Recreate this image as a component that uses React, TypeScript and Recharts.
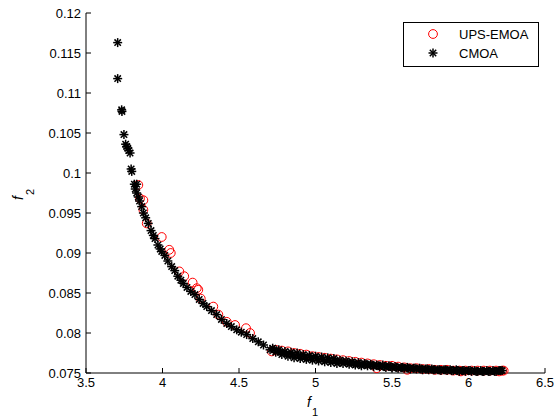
import React from 'react';
import { ScatterChart, Scatter, XAxis, YAxis, Legend, Label } from 'recharts';

// tick values and their printed labels (MATLAB style)
const xTicks = [3.5, 4, 4.5, 5, 5.5, 6, 6.5];
const xTickLabels = ['3.5', '4', '4.5', '5', '5.5', '6', '6.5'];
const yTicks = [0.075, 0.08, 0.085, 0.09, 0.095, 0.1, 0.105, 0.11, 0.115, 0.12];
const yTickLabels = ['0.075', '0.08', '0.085', '0.09', '0.095', '0.1', '0.105', '0.11', '0.115', '0.12'];

// UPS-EMOA front (red circles)
const upsF1 = [
  3.842, 3.853, 3.875, 3.875, 3.897, 3.995, 4.044, 4.054, 4.110, 4.142,
  4.197, 4.224, 4.234, 4.250, 4.332, 4.365, 4.420, 4.474, 4.546, 4.572,
  4.714, 4.74, 4.78, 4.82, 4.86, 4.90, 4.94, 4.98, 5.02, 5.06,
  5.10, 5.14, 5.18, 5.22, 5.26, 5.30, 5.34, 5.38, 5.42, 5.46,
  5.50, 5.54, 5.58, 5.62, 5.66, 5.70, 5.74, 5.78, 5.82, 5.86,
  5.90, 5.94, 5.98, 6.02, 6.06, 6.10, 6.14, 6.18, 6.22, 6.23,
  5.40, 5.60, 5.95, 6.20,
];
const upsF2 = [
  0.0985, 0.0968, 0.0966, 0.0954, 0.0937, 0.0920, 0.0904, 0.0900, 0.0877, 0.0871,
  0.0863, 0.0856, 0.0854, 0.0843, 0.0833, 0.0823, 0.0814, 0.0810, 0.0806, 0.0800,
  0.0777, 0.0779, 0.0778, 0.0777, 0.0775, 0.0774, 0.0773, 0.0771, 0.0770, 0.0769,
  0.0768, 0.0767, 0.0766, 0.0765, 0.0764, 0.0763, 0.0762, 0.0761, 0.0760, 0.0759,
  0.0759, 0.0758, 0.0757, 0.0756, 0.0756, 0.0755, 0.0755, 0.0754, 0.0754, 0.0754,
  0.0753, 0.0753, 0.0753, 0.0753, 0.0753, 0.0753, 0.0753, 0.0753, 0.0753, 0.0753,
  0.0756, 0.0754, 0.0752, 0.0752,
];

// CMOA front (black asterisks)
const cmoaF1 = [
  3.707, 3.707, 3.733, 3.735, 3.748, 3.759, 3.766, 3.773, 3.780, 3.788,
  3.795, 3.799, 3.816, 3.822, 3.831, 3.831, 3.842, 3.850, 3.864, 3.875,
  3.890, 3.907, 3.925, 3.940, 3.951, 3.970, 3.985, 3.995, 4.015, 4.035,
  4.060, 4.080, 4.100, 4.120, 4.136, 4.160, 4.185, 4.212, 4.240, 4.265,
  4.289, 4.320, 4.354, 4.385, 4.420, 4.450, 4.485, 4.515, 4.550, 4.590,
  4.626, 4.660, 4.703,
  4.72, 4.76, 4.80, 4.84, 4.88, 4.92, 4.96, 5.00, 5.04, 5.08,
  5.12, 5.16, 5.20, 5.24, 5.28, 5.32, 5.36, 5.40, 5.44, 5.48,
  5.52, 5.56, 5.60, 5.64, 5.68, 5.72, 5.76, 5.80, 5.84, 5.88,
  5.92, 5.96, 6.00, 6.04, 6.08, 6.12, 6.16, 6.20, 6.22,
  4.73, 4.77, 4.81, 4.85, 4.89, 4.93, 4.97, 5.01, 5.05, 5.09,
  5.13, 5.17, 5.21, 5.25, 5.29, 5.33, 5.37, 5.41, 5.45, 5.49,
  5.53, 5.57, 5.61, 5.65, 5.69, 5.73, 5.77, 5.81, 5.85, 5.89,
  5.93, 5.97, 6.01, 6.05, 6.09, 6.13, 6.17, 6.21,
  4.74, 4.78, 4.82, 4.86, 4.90, 4.94, 4.98, 5.02, 5.06, 5.10,
  5.14, 5.18, 5.22, 5.26, 5.30, 5.34, 5.38, 5.42, 5.46, 5.50,
  5.54, 5.58, 5.62, 5.66, 5.70, 5.74, 5.78, 5.82, 5.86, 5.90,
  5.94, 5.98, 6.02, 6.06, 6.10, 6.14, 6.18,
];
const cmoaF2 = [
  0.1163, 0.1118, 0.1079, 0.1077, 0.1048, 0.1036, 0.1033, 0.1031, 0.1028, 0.1025,
  0.1005, 0.1002, 0.0986, 0.0980, 0.0975, 0.0986, 0.0970, 0.0965, 0.0958, 0.0950,
  0.0944, 0.0937, 0.0928, 0.0922, 0.0918, 0.0910, 0.0905, 0.0902, 0.0897, 0.0890,
  0.0883, 0.0878, 0.0871, 0.0866, 0.0862, 0.0857, 0.0852, 0.0848, 0.0842, 0.0837,
  0.0833, 0.0828, 0.0823, 0.0817, 0.0812, 0.0808, 0.0804, 0.0801, 0.0798, 0.0793,
  0.0789, 0.0785, 0.0779,
  0.0781, 0.0779, 0.0777, 0.0776, 0.0775, 0.0773, 0.0772, 0.0771, 0.0770, 0.0769,
  0.0768, 0.0766, 0.0765, 0.0764, 0.0763, 0.0762, 0.0761, 0.0760, 0.0760, 0.0759,
  0.0758, 0.0757, 0.0757, 0.0756, 0.0756, 0.0755, 0.0755, 0.0754, 0.0754, 0.0754,
  0.0754, 0.0753, 0.0753, 0.0753, 0.0753, 0.0753, 0.0753, 0.0753, 0.0753,
  0.0779, 0.0776, 0.0774, 0.0773, 0.0772, 0.0770, 0.0769, 0.0768, 0.0767, 0.0766,
  0.0765, 0.0764, 0.0763, 0.0762, 0.0761, 0.0761, 0.0760, 0.0759, 0.0758, 0.0758,
  0.0757, 0.0757, 0.0756, 0.0756, 0.0755, 0.0755, 0.0754, 0.0754, 0.0754, 0.0753,
  0.0753, 0.0753, 0.0753, 0.0752, 0.0752, 0.0752, 0.0752, 0.0753,
  0.0776, 0.0773, 0.0771, 0.0769, 0.0768, 0.0767, 0.0766, 0.0765, 0.0764, 0.0763,
  0.0762, 0.0762, 0.0761, 0.0760, 0.0759, 0.0759, 0.0758, 0.0758, 0.0757, 0.0757,
  0.0756, 0.0756, 0.0755, 0.0755, 0.0754, 0.0754, 0.0754, 0.0753, 0.0753, 0.0753,
  0.0752, 0.0752, 0.0752, 0.0752, 0.0752, 0.0752, 0.0752,
];

const upsData = upsF1.map((f1, i) => ({ f1, f2: upsF2[i] }));
const cmoaData = cmoaF1.map((f1, i) => ({ f1, f2: cmoaF2[i] }));

const FONT = '"Liberation Sans", Arial, Helvetica, sans-serif';

const Ring = ({ cx, cy }: any) => (
  <circle cx={cx} cy={cy} r={4.4} fill="none" stroke="#ff0000" strokeWidth={1} />
);

const Star = ({ cx, cy }: any) => (
  <g stroke="#000" strokeWidth={1.5}>
    <line x1={cx - 4.5} y1={cy} x2={cx + 4.5} y2={cy} />
    <line x1={cx} y1={cy - 4.5} x2={cx} y2={cy + 4.5} />
    <line x1={cx - 3.2} y1={cy - 3.2} x2={cx + 3.2} y2={cy + 3.2} />
    <line x1={cx - 3.2} y1={cy + 3.2} x2={cx + 3.2} y2={cy - 3.2} />
  </g>
);

// ticks point inwards, so draw them ourselves
const XTick = ({ x, y, payload }: any) => {
  const i = xTicks.indexOf(payload.value);
  return (
    <g>
      <line x1={x} y1={y} x2={x} y2={y - 5} stroke="#000" />
      <text x={x} y={y + 14} textAnchor="middle" fontSize={13} fontFamily={FONT} fill="#000">
        {i >= 0 ? xTickLabels[i] : payload.value}
      </text>
    </g>
  );
};

const YTick = ({ x, y, payload }: any) => {
  const i = yTicks.indexOf(payload.value);
  return (
    <g>
      <line x1={x} y1={y} x2={x + 5} y2={y} stroke="#000" />
      <text x={x - 5} y={y + 4.5} textAnchor="end" fontSize={13} fontFamily={FONT} fill="#000">
        {i >= 0 ? yTickLabels[i] : payload.value}
      </text>
    </g>
  );
};

const LegendBox = () => (
  <svg width={136} height={45} style={{ display: 'block' }}>
    <rect x={0.5} y={0.5} width={135} height={44} fill="#fff" stroke="#000" />
    <Ring cx={30} cy={12} />
    <text x={56} y={16.5} fontSize={13} fontFamily={FONT} fill="#000">UPS-EMOA</text>
    <Star cx={30} cy={31} />
    <text x={56} y={35.5} fontSize={13} fontFamily={FONT} fill="#000">CMOA</text>
  </svg>
);

const XLabel = () => (
  <text x={307} y={407} fontFamily={FONT} fill="#000">
    <tspan fontSize={14} fontStyle="italic">f</tspan>
    <tspan fontSize={11} dx={1} dy={9}>1</tspan>
  </text>
);

const YLabel = () => (
  <text x={23} y={200} transform="rotate(-90 23 200)" fontFamily={FONT} fill="#000">
    <tspan fontSize={14} fontStyle="italic">f</tspan>
    <tspan fontSize={11} dx={1} dy={11}>2</tspan>
  </text>
);

export default function App() {
  return (
    <div style={{ position: 'absolute', left: 0, top: 0, width: 559, height: 419, background: '#fff' }}>
      <ScatterChart width={559} height={419} margin={{ top: 13, right: 14, bottom: 0, left: 0 }}>
        <XAxis
          type="number"
          dataKey="f1"
          domain={[3.5, 6.5]}
          ticks={xTicks}
          tick={<XTick />}
          tickSize={0}
          tickMargin={0}
          tickLine={false}
          axisLine={{ stroke: '#000' }}
          height={46}
          interval={0}
        >
          <Label content={<XLabel />} />
        </XAxis>
        <YAxis
          type="number"
          dataKey="f2"
          domain={[0.075, 0.12]}
          ticks={yTicks}
          tick={<YTick />}
          tickSize={0}
          tickMargin={0}
          tickLine={false}
          axisLine={{ stroke: '#000' }}
          width={86}
          interval={0}
        >
          <Label content={<YLabel />} />
        </YAxis>
        <Legend
          layout="vertical"
          align="center"
          verticalAlign="middle"
          wrapperStyle={{ left: 403, top: 22, width: 136, height: 45 }}
          content={<LegendBox />}
        />
        <Scatter name="UPS-EMOA" data={upsData} shape={<Ring />} isAnimationActive={false} />
        <Scatter name="CMOA" data={cmoaData} shape={<Star />} isAnimationActive={false} />
      </ScatterChart>
    </div>
  );
}
